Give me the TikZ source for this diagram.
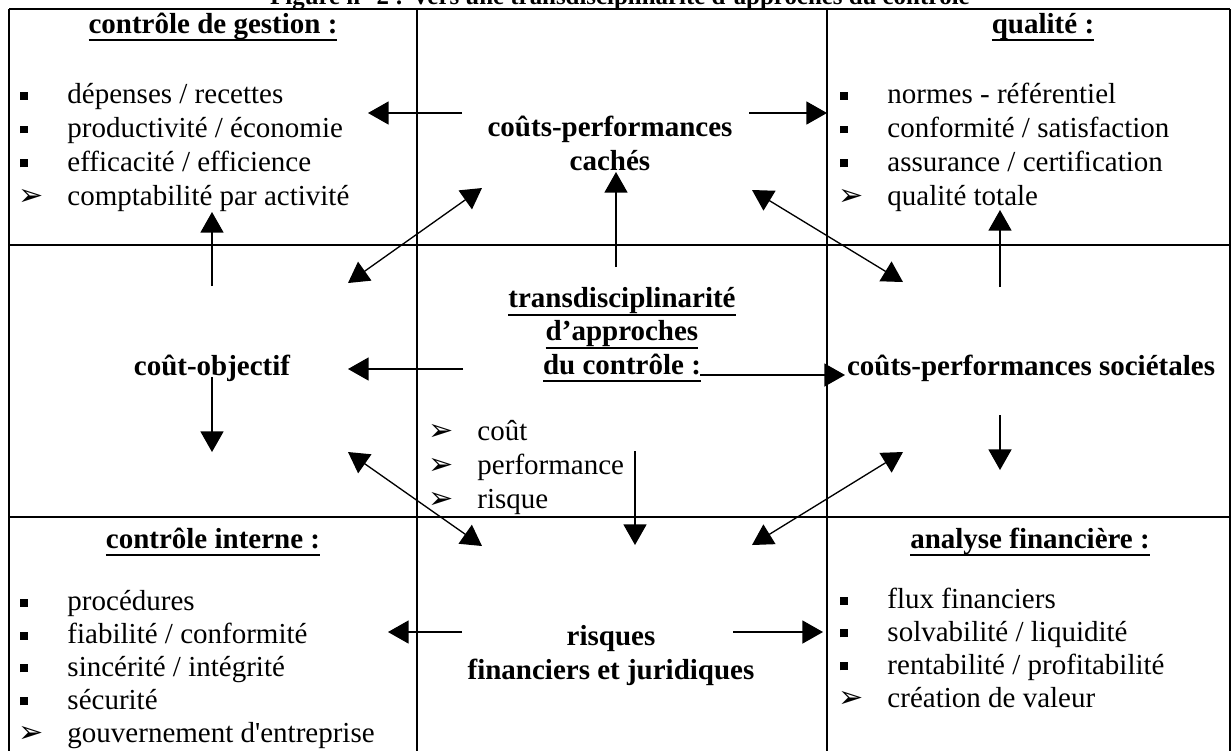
\documentclass[tikz,border=0pt]{standalone}
\usepackage{fontspec}
\setmainfont{Liberation Serif}
\newfontfamily\dingfont{DejaVu Sans}
\usetikzlibrary{arrows.meta}
\newsavebox{\undlbox}
\newcommand{\undl}[1]{\sbox{\undlbox}{#1}\rlap{\rule[-3.4pt]{\wd\undlbox}{1pt}}\usebox{\undlbox}}
\tikzset{cell line/.style={line width=0.9pt},
         head node/.style={font=\bfseries\fontsize{12}{13.7}\selectfont,inner sep=0pt,anchor=base},
         key node/.style={font=\bfseries\fontsize{12}{13.7}\selectfont,align=center,inner sep=0pt,anchor=base},
         list node/.style={font=\fontsize{12}{14}\selectfont,align=left,inner sep=0pt,anchor=base west},}
\tikzstyle{arr} = [line width=0.55pt,-{Triangle[length=8.5pt,width=9.5pt]}]
\tikzstyle{dbl} = [line width=0.55pt,{Triangle[length=8.5pt,width=9.5pt]}-{Triangle[length=8.5pt,width=9.5pt]}]
\newcommand{\sq}{\makebox[19.45pt][l]{\raisebox{1.6pt}{\rule{3.3pt}{3.3pt}}}}
\newcommand{\tri}{\makebox[19.45pt][l]{\hspace{-1pt}\dingfont\fontsize{12.5}{12.5}\selectfont ➢}}
\begin{document}
\begin{tikzpicture}[x=0.4138pt,y=-0.4138pt]
\useasboundingbox (0,0) rectangle (1232,751);
\draw[cell line] (9,9) -- (1230,9) (9,245) -- (1230,245) (9,517) -- (1230,517);
\draw[cell line] (9,9) -- (9,751) (417,9) -- (417,751) (827,9) -- (827,751) (1230,9) -- (1230,751);

\node[head node, font=\bfseries\fontsize{10.3}{12}\selectfont] (fig) at (620,4) {Figure n° 2 : Vers une transdisciplinarité d’approches du contrôle};
\node[head node] (cg) at (213,33) {\undl{contrôle de gestion :}};
\node[head node] (ql) at (1043,33) {\undl{qualité :}};
\node[head node] (ci) at (213,548) {\undl{contrôle interne :}};
\node[head node] (af) at (1030,548) {\undl{analyse financière :}};

\node[key node] (cpc) at (610,170) {coûts-performances\\cachés};
\node[key node] (tr) at (622,374) {\undl{transdisciplinarité}\\\undl{d’approches}\\\undl{du contrôle :}};
\node[key node] (co) at (212,375) {coût-objectif};
\node[key node] (cps) at (1031,375) {coûts-performances sociétales};
\node[key node] (rfj) at (611,679) {risques\\financiers et juridiques};

\node[list node] (cgl) at (20,205) {\sq dépenses / recettes\\\sq productivité / économie\\\sq efficacité / efficience\\\tri comptabilité par activité};
\node[list node] (qll) at (840,205) {\sq normes - référentiel\\\sq conformité / satisfaction\\\sq assurance / certification\\\tri qualité totale};
\node[list node] (trl) at (430,508) {\tri coût\\\tri performance\\\tri risque};
\node[list node, font=\fontsize{12}{13.6}\selectfont] (cil) at (20,742) {\sq procédures\\\sq fiabilité / conformité\\\sq sincérité / intégrité\\\sq sécurité\\\tri gouvernement d\textquotesingle entreprise};
\node[list node, font=\fontsize{12}{13.6}\selectfont] (afl) at (840,707) {\sq flux financiers\\\sq solvabilité / liquidité\\\sq rentabilité / profitabilité\\\tri création de valeur};

\coordinate (cpc-w) at (462,113);  \coordinate (cg-e) at (368,113);
\coordinate (cpc-e) at (749,113);  \coordinate (ql-w) at (827,113);
\coordinate (tr-n) at (616,267);   \coordinate (cpc-s) at (616,172);
\coordinate (co-ne) at (348,283);  \coordinate (cpc-sw) at (482,188);
\coordinate (cpc-se) at (752,190); \coordinate (cps-nw) at (903,282);
\coordinate (co-n) at (212,286);   \coordinate (cg-s) at (212,212);
\coordinate (cps-n) at (1000,287); \coordinate (ql-s) at (1000,210);
\coordinate (tr-w) at (463,369);   \coordinate (co-e) at (348,369);
\coordinate (tr-e) at (700,375);   \coordinate (cps-w) at (845,375);
\coordinate (co-s) at (212,377);   \coordinate (ci-n) at (212,452);
\coordinate (cps-s) at (1000,415); \coordinate (af-n) at (1000,470);
\coordinate (tr-s) at (635,451);   \coordinate (rfj-n) at (635,545);
\coordinate (co-se) at (348,452);  \coordinate (rfj-nw) at (482,546);
\coordinate (rfj-ne) at (752,545); \coordinate (cps-sw) at (903,452);
\coordinate (rfj-w) at (462,632);  \coordinate (ci-e) at (388,632);
\coordinate (rfj-e) at (733,632);  \coordinate (af-w) at (823,632);

\draw[arr] (cpc-w) -- (cg-e);
\draw[arr] (cpc-e) -- (ql-w);
\draw[arr] (tr-n) -- (cpc-s);
\draw[dbl] (co-ne) -- (cpc-sw);
\draw[dbl] (cpc-se) -- (cps-nw);
\draw[arr] (co-n) -- (cg-s);
\draw[arr] (cps-n) -- (ql-s);
\draw[arr] (tr-w) -- (co-e);
\draw[arr] (tr-e) -- (cps-w);
\draw[arr] (co-s) -- (ci-n);
\draw[arr] (cps-s) -- (af-n);
\draw[arr] (tr-s) -- (rfj-n);
\draw[dbl] (co-se) -- (rfj-nw);
\draw[dbl] (rfj-ne) -- (cps-sw);
\draw[arr] (rfj-w) -- (ci-e);
\draw[arr] (rfj-e) -- (af-w);
\end{tikzpicture}
\end{document}
